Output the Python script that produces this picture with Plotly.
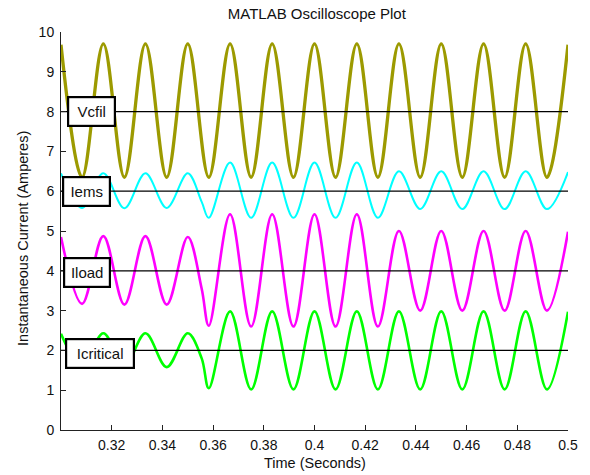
import plotly.graph_objects as go

# Times of the waveform extrema (seconds)
t_ext = [0.3000, 0.3083, 0.3167, 0.3250, 0.3333, 0.3417, 0.3500, 0.3583,
         0.3667, 0.3750, 0.3833, 0.3917, 0.4000, 0.4083, 0.4167, 0.4250,
         0.4333, 0.4417, 0.4500, 0.4583, 0.4667, 0.4750, 0.4833, 0.4917, 0.5000]

# Vcfil values at the extrema
vcfil = [9.68, 6.35, 9.70, 6.35, 9.70, 6.35, 9.70, 6.35, 9.70, 6.35, 9.70, 6.35,
         9.70, 6.35, 9.70, 6.35, 9.70, 6.35, 9.70, 6.35, 9.70, 6.35, 9.70, 6.35, 9.68]

# Signals with a step near t = 0.3555 s (extra kink point)
t_kink = [0.3000, 0.3083, 0.3167, 0.3250, 0.3333, 0.3417, 0.3500, 0.3555, 0.3583,
          0.3667, 0.3750, 0.3833, 0.3917, 0.4000, 0.4083, 0.4167, 0.4250,
          0.4333, 0.4417, 0.4500, 0.4583, 0.4667, 0.4750, 0.4833, 0.4917, 0.5000]

iems = [6.45, 5.58, 6.45, 5.57, 6.45, 5.58, 6.45, 5.73, 5.33,
        6.72, 5.33, 6.72, 5.33, 6.72, 5.33, 6.72, 5.33,
        6.50, 5.55, 6.50, 5.55, 6.50, 5.55, 6.50, 5.55, 6.48]

iload = [4.85, 3.17, 4.87, 3.15, 4.87, 3.15, 4.85, 3.55, 2.62,
         5.42, 2.60, 5.42, 2.60, 5.42, 2.60, 5.42, 2.60,
         5.00, 3.00, 5.00, 3.00, 5.00, 3.00, 5.00, 3.00, 4.98]

icritical = [2.42, 1.60, 2.43, 1.60, 2.43, 1.58, 2.43, 1.80, 1.05,
             2.98, 1.02, 2.98, 1.02, 2.98, 1.02, 2.98, 1.02,
             2.98, 1.02, 2.98, 1.02, 2.98, 1.02, 2.98, 1.02, 2.97]

ref_levels = [8, 6, 4, 2]
labels = ["Vcfil", "Iems", "Iload", "Icritical"]
x_ticks = [0.32, 0.34, 0.36, 0.38, 0.40, 0.42, 0.44, 0.46, 0.48, 0.50]
x_ticktext = ["0.32", "0.34", "0.36", "0.38", "0.4", "0.42", "0.44", "0.46", "0.48", "0.5"]
y_ticks = [0, 1, 2, 3, 4, 5, 6, 7, 8, 9, 10]

FONT = "Liberation Sans, Arial, sans-serif"

fig = go.Figure()
series = [
    (t_ext, vcfil, "#9c9a00", 3.3),
    (t_kink, iems, "#00ffff", 2.0),
    (t_kink, iload, "#ff00ff", 2.6),
    (t_kink, icritical, "#00ff00", 2.6),
]
for xs, ys, col, w in series:
    fig.add_trace(go.Scatter(x=xs, y=ys, mode="lines",
                             line=dict(color=col, width=w, shape="spline", smoothing=1),
                             hoverinfo="skip", showlegend=False))

for lv in ref_levels:
    fig.add_trace(go.Scatter(x=[0.3, 0.5], y=[lv, lv], mode="lines",
                             line=dict(color="black", width=1.2),
                             hoverinfo="skip", showlegend=False))

box_pos = [(0.3023, 8.0, 45), (0.3004, 6.0, 45), (0.3009, 3.96, 44), (0.3016, 1.93, 66)]
for lab, (bx, by, bw) in zip(labels, box_pos):
    fig.add_annotation(x=bx, y=by, xref="x", yref="y", text=lab, showarrow=False,
                       xanchor="left", yanchor="middle", width=bw, height=27,
                       bgcolor="white", bordercolor="black", borderwidth=2.2, borderpad=0,
                       font=dict(family=FONT, size=15, color="#111"))

fig.add_annotation(x=0.5, y=-0.083, xref="paper", yref="paper", text="Time (Seconds)",
                   showarrow=False, xanchor="center", yanchor="middle",
                   font=dict(family=FONT, size=14.5, color="#111"))
fig.add_annotation(x=-0.0762, y=0.481, xref="paper", yref="paper",
                   text="Instantaneous Current (Amperes)", textangle=-90,
                   showarrow=False, xanchor="center", yanchor="middle",
                   font=dict(family=FONT, size=14.5, color="#111"))

fig.update_layout(
    width=590, height=475,
    margin=dict(l=61, r=17, t=32, b=45),
    paper_bgcolor="white", plot_bgcolor="white",
    title=dict(text="MATLAB Oscilloscope Plot", x=0.537, xanchor="center",
               y=1 - 14 / 475, yanchor="middle", yref="container",
               font=dict(family=FONT, size=15, color="#111")),
    xaxis=dict(range=[0.3, 0.5], tickvals=x_ticks, ticktext=x_ticktext,
               showgrid=False, zeroline=False, showline=True, linecolor="#222",
               linewidth=1, ticks="inside", ticklen=5, tickcolor="#222",
               ticklabelstandoff=2,
               tickfont=dict(family=FONT, size=14, color="#111")),
    yaxis=dict(range=[0, 10], tickvals=y_ticks,
               showgrid=False, zeroline=False, showline=True, linecolor="#222",
               linewidth=1, ticks="inside", ticklen=5, tickcolor="#222",
               ticklabelstandoff=3,
               tickfont=dict(family=FONT, size=14, color="#111")),
)

fig.write_html("out.html")
